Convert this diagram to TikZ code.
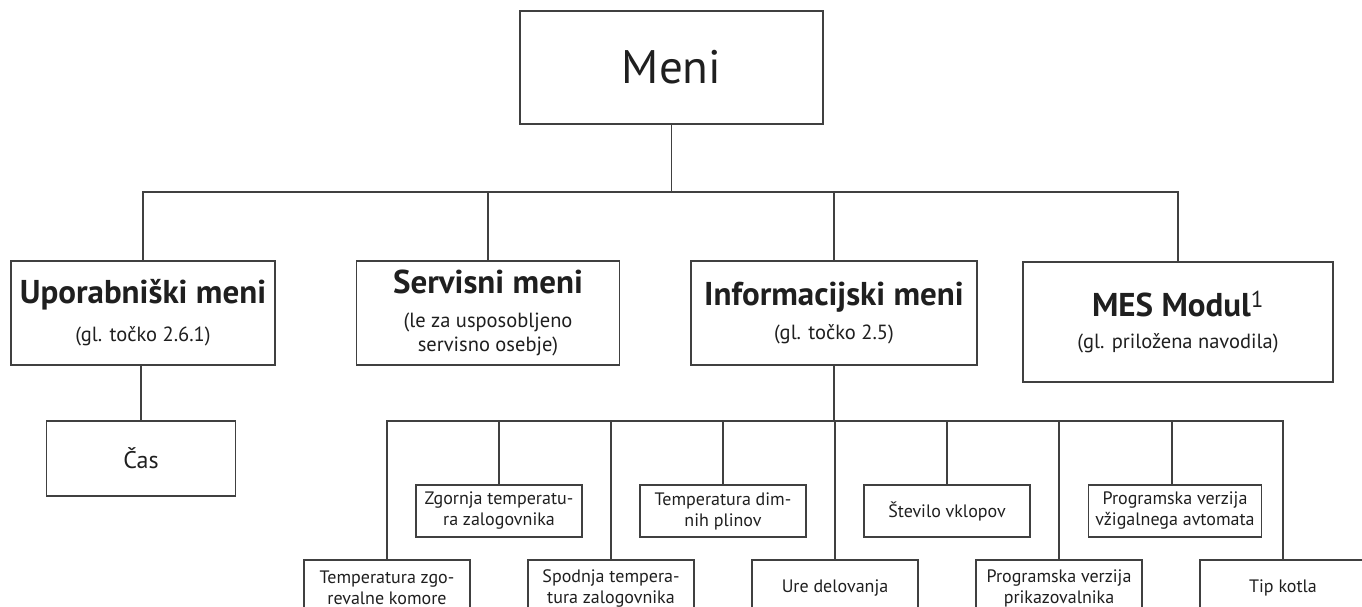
\documentclass[tikz,border=0pt]{standalone}
\usepackage{fontspec}
\setmainfont{PT Sans}
\usetikzlibrary{positioning}
\colorlet{linie}{black!75}
\colorlet{besedilo}{black!88}
\newcommand{\naslov}[1]{{\fontsize{33}{38}\selectfont\bfseries #1}}
\tikzset{
  % node options
  box/.style={rectangle,draw=linie,line width=1.1pt,text=besedilo,align=center,inner sep=0pt},
  root/.style={box,minimum width=303pt,minimum height=113pt,font=\fontsize{47}{50}\selectfont},
  menu/.style={box,minimum height=104pt,font=\fontsize{20.5}{24}\selectfont},
  leaf/.style={box,minimum width=189pt,minimum height=75pt,font=\fontsize{24}{28}\selectfont},
  info/.style={box,minimum width=166pt,minimum height=52pt,font=\fontsize{18}{21}\selectfont},
  infolow/.style={info,minimum height=56pt},
  % path options
  branch/.style={draw=linie,line width=1.1pt},
}

\begin{document}
\begin{tikzpicture}[x=1pt,y=-1pt]
  \useasboundingbox (0,0) rectangle (1362,607);
  \clip (0,0) rectangle (1362,607);
  % main levels
  \node[root] (meni) at (671.5,67.5) {Meni};
  \node[menu,minimum width=264pt] (upor) at (143,313) {\naslov{Uporabniški meni}\\[14pt](gl. točko 2.6.1)};
  \node[menu,minimum width=263pt] (serv) at (488,313) {\naslov{Servisni meni}\\[10pt](le za usposobljeno\\servisno osebje)};
  \node[menu,minimum width=286pt] (info) at (834,313) {\naslov{Informacijski meni}\\[10pt](gl. točko 2.5)};
  \node[menu,minimum width=310pt,minimum height=120pt] (mes) at (1178,322) {\naslov{MES Modul\textsuperscript{\mdseries 1}}\\[8pt](gl. priložena navodila)};
  \node[leaf] (cas) at (141,458.5) {Čas};
  % informacijski meni
  \node[infolow] (zgorevanje) at (387,588) {Temperatura zgo-\\revalne komore};
  \node[info] (zgornja) at (499,511) {Zgornja temperatu-\\ra zalogovnika};
  \node[infolow] (spodnja) at (611,588) {Spodnja tempera-\\tura zalogovnika};
  \node[info] (dimni) at (723,511) {Temperatura dim-\\nih plinov};
  \node[infolow] (ure) at (835,588) {Ure delovanja};
  \node[info] (vklopi) at (947,511) {Število vklopov};
  \node[infolow] (prikaz) at (1059,588) {Programska verzija\\prikazovalnika};
  \node[info,minimum width=173pt] (avtomat) at (1175,511) {Programska verzija\\vžigalnega avtomata};
  \node[infolow] (kotel) at (1283,588) {Tip kotla};
  % connectors
  \coordinate (bar) at (671.5,192);
  \coordinate (ibar) at (834,421);
  \draw[branch] (meni) -- (bar);
  \draw[branch] (upor.north) |- (bar) -| (mes.north);
  \draw[branch] (serv.north) -- (serv.north |- bar);
  \draw[branch] (info.north) -- (info.north |- bar);
  \draw[branch] (cas.north |- upor.south) -- (cas.north);
  \draw[branch] (info) -- (ibar);
  \draw[branch] (zgorevanje.north) |- (ibar) -| (kotel.north);
  \foreach \n in {zgornja,spodnja,dimni,ure,vklopi,prikaz}
    \draw[branch] (\n.north) -- (\n.north |- ibar);
  \draw[branch] ([xshift=-3pt]avtomat.north) -- ([xshift=-3pt]avtomat.north |- ibar);
\end{tikzpicture}
\end{document}
